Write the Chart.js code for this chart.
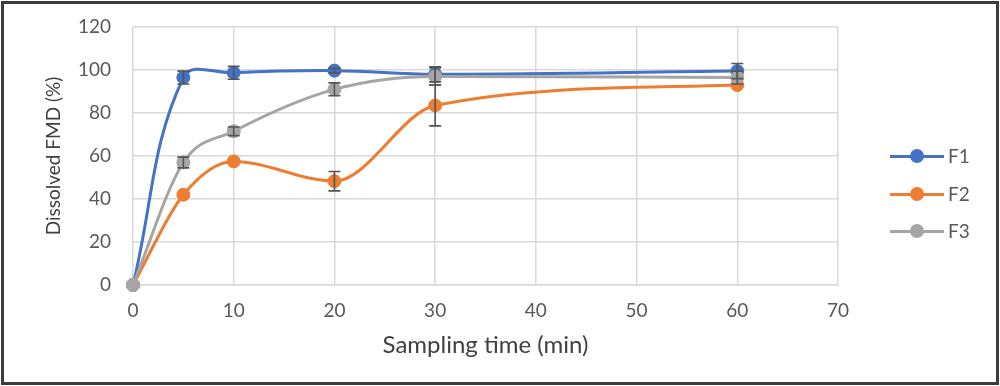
<!DOCTYPE html>
<html><head><meta charset="utf-8">
<script src="https://cdn.jsdelivr.net/npm/chart.js@4/dist/chart.umd.min.js"></script>
<style>
html,body{margin:0;padding:0;background:#fff;}
#wrap{position:relative;width:1000px;height:386px;overflow:hidden;background:#fff;}
#c{position:absolute;left:0;top:0;}
#frame{position:absolute;left:1px;top:1px;width:992px;height:378px;border:3px solid #3c3c3c;pointer-events:none;}
.lg{position:absolute;left:890px;height:20px;font:19px Lato,sans-serif;color:#595959;}
.lg .ln{position:absolute;left:0;top:9px;width:54px;height:3px;}
.lg .dt{position:absolute;left:20px;top:3px;width:14px;height:14px;border-radius:50%;}
.lg .tx{position:absolute;left:58px;top:-2px;}
</style></head>
<body>
<div id="wrap">
<canvas id="c" width="1000" height="386"></canvas>
<div id="legend"></div>
<div id="frame"></div>
</div>
<script>
const times = [0, 5, 10, 20, 30, 60];
const seriesNames = ['F1', 'F2', 'F3'];
const f1 = [0, 96.5, 98.7, 99.7, 98.0, 99.5];
const f2 = [0, 42.0, 57.5, 48.3, 83.5, 93.0];
const f3 = [0, 57.0, 71.5, 91.0, 97.0, 96.5];
const f1Err = [0, 3.0, 3.0, 1.0, 3.5, 3.5];
const f2Err = [0, 0, 0, 4.5, 9.5, 0];
const f3Err = [0, 2.5, 2.0, 3.0, 4.0, 3.0];
const xTicks = [0, 10, 20, 30, 40, 50, 60, 70];
const yTicks = [0, 20, 40, 60, 80, 100, 120];
const colors = ['#4472C4', '#ED7D31', '#A5A5A5'];

const FONT = 'Lato, sans-serif';
const vals = [f1, f2, f3];
const errs = [f1Err, f2Err, f3Err];
const modes = ['default', 'monotone', 'monotone'];

const datasets = vals.map((v, i) => ({
  label: seriesNames[i],
  data: times.map((t, j) => ({x: t, y: v[j]})),
  err: errs[i],
  order: 3 - i,
  borderColor: colors[i],
  backgroundColor: colors[i],
  pointBackgroundColor: colors[i],
  pointBorderColor: colors[i],
  pointRadius: 6.5,
  pointBorderWidth: 1,
  borderWidth: 3,
  tension: 0.4,
  cubicInterpolationMode: modes[i],
  clip: false,
  fill: false
}));

const errorBars = {
  id: 'errorBars',
  afterDatasetsDraw(chart) {
    const ctx = chart.ctx;
    const ys = chart.scales.y;
    ctx.save();
    ctx.strokeStyle = '#555555';
    ctx.lineWidth = 1.6;
    chart.data.datasets.forEach((ds, i) => {
      const meta = chart.getDatasetMeta(i);
      meta.data.forEach((pt, j) => {
        const e = ds.err[j];
        if (!e) return;
        const v = ds.data[j].y;
        const yTop = ys.getPixelForValue(v + e);
        const yBot = ys.getPixelForValue(v - e);
        const x = pt.x;
        ctx.beginPath();
        ctx.moveTo(x, yTop); ctx.lineTo(x, yBot);
        ctx.moveTo(x - 6, yTop); ctx.lineTo(x + 6, yTop);
        ctx.moveTo(x - 6, yBot); ctx.lineTo(x + 6, yBot);
        ctx.stroke();
      });
    });
    ctx.restore();
  }
};

new Chart(document.getElementById('c'), {
  type: 'line',
  data: { datasets },
  plugins: [errorBars],
  options: {
    responsive: false,
    animation: false,
    layout: { padding: { left: 42, right: 162, top: 27, bottom: 22 } },
    plugins: { legend: { display: false }, tooltip: { enabled: false } },
    scales: {
      x: {
        type: 'linear', min: 0, max: 70,
        afterBuildTicks: s => { s.ticks = xTicks.map(v => ({value: v})); },
        grid: { color: '#d9d9d9', lineWidth: 1.5, drawTicks: false },
        border: { color: '#d9d9d9', width: 1.5 },
        ticks: { color: '#595959', font: { family: FONT, size: 19 }, padding: 14 },
        title: { display: true, text: 'Sampling time (min)', color: '#404040', font: { family: FONT, size: 24 }, padding: { top: 2 } },
        afterFit: s => { s.height = 79; }
      },
      y: {
        min: 0, max: 120,
        afterBuildTicks: s => { s.ticks = yTicks.map(v => ({value: v})); },
        grid: { color: '#d9d9d9', lineWidth: 1.5, drawTicks: false },
        border: { display: false },
        ticks: { color: '#595959', font: { family: FONT, size: 19 }, padding: 22 },
        title: { display: true, text: 'Dissolved FMD (%)', color: '#404040', font: { family: FONT, size: 19 }, padding: { top: 0, bottom: 0 } },
        afterFit: s => { s.width = 91; s.paddingTop = 0; s.paddingBottom = 0; }
      }
    }
  }
});

const lg = document.getElementById('legend');
const legendTops = [146, 184, 221];
seriesNames.forEach((n, i) => {
  const d = document.createElement('div');
  d.className = 'lg';
  d.style.top = legendTops[i] + 'px';
  d.innerHTML = '<div class="ln" style="background:' + colors[i] + '"></div><div class="dt" style="background:' + colors[i] + '"></div><span class="tx">' + n + '</span>';
  lg.appendChild(d);
});
</script>
</body></html>
